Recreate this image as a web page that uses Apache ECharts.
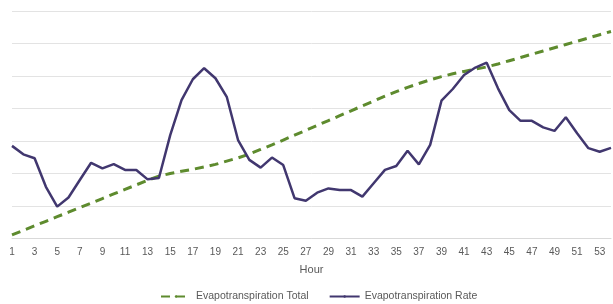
<!DOCTYPE html>
<html>
<head>
<meta charset="utf-8">
<script src="https://cdn.jsdelivr.net/npm/echarts@6/dist/echarts.min.js"></script>
<style>
html,body{margin:0;padding:0;background:#fff;}
#main{width:613px;height:304px;}
</style>
</head>
<body>
<div id="main"></div>
<script>
// hours 1..54
var hours = [];
for (var i = 1; i <= 54; i++) hours.push(String(i));

// cumulative total (dashed green)
var etTotal = [0.11,0.25,0.39,0.53,0.67,0.81,0.95,1.09,1.23,1.37,1.51,1.65,1.79,1.92,
	2.00,2.07,2.13,2.20,2.28,2.38,2.48,2.60,2.74,2.88,3.03,3.18,3.33,3.48,3.63,3.78,
	3.93,4.08,4.23,4.38,4.52,4.65,4.77,4.88,4.98,5.07,5.14,5.21,5.28,5.37,5.47,5.57,
	5.67,5.77,5.87,5.97,6.07,6.17,6.27,6.37];

// hourly rate (solid purple)
var etRate = [2.85,2.59,2.47,1.59,0.98,1.26,1.80,2.33,2.16,2.29,2.11,2.11,1.82,1.86,
	3.18,4.26,4.90,5.24,4.93,4.36,3.03,2.42,2.18,2.49,2.26,1.24,1.16,1.41,1.54,1.49,
	1.49,1.29,1.70,2.11,2.23,2.70,2.28,2.88,4.24,4.60,5.03,5.26,5.41,4.62,3.95,3.62,
	3.62,3.42,3.31,3.73,3.24,2.78,2.67,2.79];

window.onload = function(){
	var myChart = echarts.init(document.getElementById('main'));
	var option = {
		animation: false,
		textStyle: { fontFamily: 'Liberation Sans, Arial, sans-serif' },
		grid: { left: 12, right: 2, top: 11, bottom: 65.5 },
		legend: {
			left: 155,
			bottom: -3,
			itemWidth: 30,
			itemHeight: 3,
			itemGap: 20,
			textStyle: { color: '#595959', fontSize: 10.5 },
			data: ['Evapotranspiration Total', 'Evapotranspiration Rate']
		},
		xAxis: {
			type: 'category',
			data: hours,
			boundaryGap: false,
			name: 'Hour',
			nameLocation: 'middle',
			nameGap: 26,
			nameTextStyle: { color: '#595959', fontSize: 11 },
			axisLine: { lineStyle: { color: '#d9d9d9' } },
			axisTick: { show: false },
			axisLabel: { interval: 1, color: '#595959', fontSize: 10, margin: 9 }
		},
		yAxis: {
			type: 'value',
			min: 0,
			max: 7,
			interval: 1,
			axisLine: { show: false },
			axisTick: { show: false },
			axisLabel: { show: false },
			splitLine: { lineStyle: { color: '#e3e3e3', width: 1 } }
		},
		series: [{
			name: 'Evapotranspiration Total',
			type: 'line',
			data: etTotal,
			symbol: 'none',
			itemStyle: { color: '#5e8b2e' },
			lineStyle: { color: '#5e8b2e', width: 3, type: [9, 6] },
			z: 2
		}, {
			name: 'Evapotranspiration Rate',
			type: 'line',
			data: etRate,
			symbol: 'none',
			itemStyle: { color: '#41376f' },
			lineStyle: { color: '#41376f', width: 2.5 },
			z: 3
		}]
	};
	myChart.setOption(option);
};
</script>
</body>
</html>
